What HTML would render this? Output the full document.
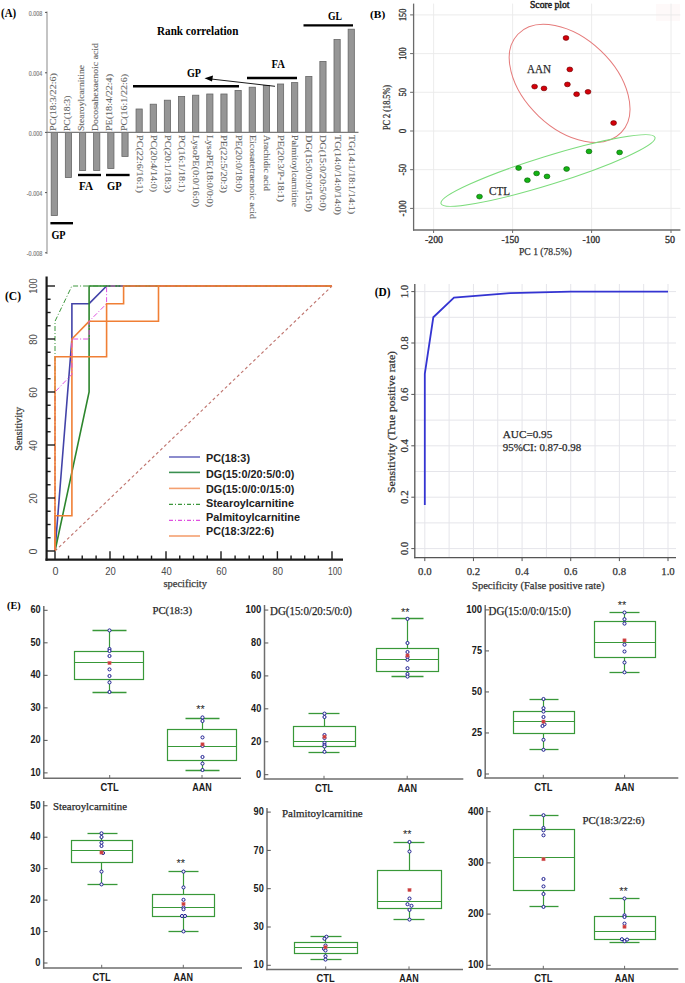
<!DOCTYPE html>
<html><head><meta charset="utf-8"><style>
html,body{margin:0;padding:0;background:#fff;}
svg{display:block;}
</style></head><body>
<svg width="685" height="983" viewBox="0 0 685 983">
<rect width="685" height="983" fill="#fff"/>
<text x="1.1" y="17" font-family='"Liberation Serif", serif' font-size="11.6" fill="#000" font-weight="bold" textLength="15.1" lengthAdjust="spacingAndGlyphs">(A)</text>
<line x1="47" y1="11.5" x2="47" y2="254" stroke="#b0b0b0" stroke-width="1.5" />
<line x1="45" y1="12.4" x2="47" y2="12.4" stroke="#555" stroke-width="1" />
<text x="42.3" y="15.7" font-family='"Liberation Sans", sans-serif' font-size="7.6" fill="#7a7a7a" text-anchor="end" textLength="13.5" lengthAdjust="spacingAndGlyphs" stroke="#888" stroke-width="0.2">0.008</text>
<line x1="45" y1="72.8" x2="47" y2="72.8" stroke="#555" stroke-width="1" />
<text x="42.3" y="76.1" font-family='"Liberation Sans", sans-serif' font-size="7.6" fill="#7a7a7a" text-anchor="end" textLength="13.5" lengthAdjust="spacingAndGlyphs" stroke="#888" stroke-width="0.2">0.004</text>
<line x1="45" y1="132.4" x2="47" y2="132.4" stroke="#555" stroke-width="1" />
<text x="42.3" y="135.7" font-family='"Liberation Sans", sans-serif' font-size="7.6" fill="#7a7a7a" text-anchor="end" textLength="13.5" lengthAdjust="spacingAndGlyphs" stroke="#888" stroke-width="0.2">0.000</text>
<line x1="45" y1="192.6" x2="47" y2="192.6" stroke="#555" stroke-width="1" />
<text x="42.3" y="195.9" font-family='"Liberation Sans", sans-serif' font-size="7.6" fill="#7a7a7a" text-anchor="end" textLength="15.5" lengthAdjust="spacingAndGlyphs" stroke="#888" stroke-width="0.2">-0.004</text>
<line x1="45" y1="252.8" x2="47" y2="252.8" stroke="#555" stroke-width="1" />
<text x="42.3" y="256.1" font-family='"Liberation Sans", sans-serif' font-size="7.6" fill="#7a7a7a" text-anchor="end" textLength="15.5" lengthAdjust="spacingAndGlyphs" stroke="#888" stroke-width="0.2">-0.008</text>
<rect x="51.2" y="132.4" width="6.2" height="83.2" fill="#969696" stroke="#666" stroke-width="0.8" />
<rect x="65.34" y="132.4" width="6.2" height="45.2" fill="#969696" stroke="#666" stroke-width="0.8" />
<rect x="79.48" y="132.4" width="6.2" height="38.2" fill="#969696" stroke="#666" stroke-width="0.8" />
<rect x="93.62" y="132.4" width="6.2" height="38.2" fill="#969696" stroke="#666" stroke-width="0.8" />
<rect x="107.76" y="132.4" width="6.2" height="36.2" fill="#969696" stroke="#666" stroke-width="0.8" />
<rect x="121.9" y="132.4" width="6.2" height="24" fill="#969696" stroke="#666" stroke-width="0.8" />
<rect x="136.04" y="109" width="6.2" height="23.4" fill="#969696" stroke="#666" stroke-width="0.8" />
<rect x="150.18" y="104.2" width="6.2" height="28.2" fill="#969696" stroke="#666" stroke-width="0.8" />
<rect x="164.32" y="100.2" width="6.2" height="32.2" fill="#969696" stroke="#666" stroke-width="0.8" />
<rect x="178.46" y="96.4" width="6.2" height="36" fill="#969696" stroke="#666" stroke-width="0.8" />
<rect x="192.6" y="95.2" width="6.2" height="37.2" fill="#969696" stroke="#666" stroke-width="0.8" />
<rect x="206.74" y="94" width="6.2" height="38.4" fill="#969696" stroke="#666" stroke-width="0.8" />
<rect x="220.88" y="94" width="6.2" height="38.4" fill="#969696" stroke="#666" stroke-width="0.8" />
<rect x="235.02" y="90.4" width="6.2" height="42" fill="#969696" stroke="#666" stroke-width="0.8" />
<rect x="249.16" y="87.2" width="6.2" height="45.2" fill="#969696" stroke="#666" stroke-width="0.8" />
<rect x="263.3" y="85.4" width="6.2" height="47" fill="#969696" stroke="#666" stroke-width="0.8" />
<rect x="277.44" y="84" width="6.2" height="48.4" fill="#969696" stroke="#666" stroke-width="0.8" />
<rect x="291.58" y="82.6" width="6.2" height="49.8" fill="#969696" stroke="#666" stroke-width="0.8" />
<rect x="305.72" y="76.4" width="6.2" height="56" fill="#969696" stroke="#666" stroke-width="0.8" />
<rect x="319.86" y="61.4" width="6.2" height="71" fill="#969696" stroke="#666" stroke-width="0.8" />
<rect x="334" y="39.5" width="6.2" height="92.9" fill="#969696" stroke="#666" stroke-width="0.8" />
<rect x="348.14" y="29.2" width="6.2" height="103.2" fill="#969696" stroke="#666" stroke-width="0.8" />
<line x1="47" y1="132.4" x2="358.5" y2="132.4" stroke="#7a7a7a" stroke-width="1.3" />
<text transform="translate(55.9,131) rotate(-90)" font-family='"Liberation Serif", serif' font-size="7.3" fill="#5a5a5a" textLength="58" lengthAdjust="spacingAndGlyphs" stroke="#888" stroke-width="0.12">PC(18:3/22:6)</text>
<text transform="translate(70.04,131) rotate(-90)" font-family='"Liberation Serif", serif' font-size="7.3" fill="#5a5a5a" textLength="35.4" lengthAdjust="spacingAndGlyphs" stroke="#888" stroke-width="0.12">PC(18:3)</text>
<text transform="translate(84.18,131) rotate(-90)" font-family='"Liberation Serif", serif' font-size="7.3" fill="#5a5a5a" textLength="66" lengthAdjust="spacingAndGlyphs" stroke="#888" stroke-width="0.12">Stearoylcarnitine</text>
<text transform="translate(98.32,131) rotate(-90)" font-family='"Liberation Serif", serif' font-size="7.3" fill="#5a5a5a" textLength="88" lengthAdjust="spacingAndGlyphs" stroke="#888" stroke-width="0.12">Docosahexaenoic acid</text>
<text transform="translate(112.46,131) rotate(-90)" font-family='"Liberation Serif", serif' font-size="7.3" fill="#5a5a5a" textLength="57" lengthAdjust="spacingAndGlyphs" stroke="#888" stroke-width="0.12">PE(18:4/22:4)</text>
<text transform="translate(126.6,131) rotate(-90)" font-family='"Liberation Serif", serif' font-size="7.3" fill="#5a5a5a" textLength="57" lengthAdjust="spacingAndGlyphs" stroke="#888" stroke-width="0.12">PC(16:1/22:6)</text>
<text transform="translate(136.59,135) rotate(90)" font-family='"Liberation Serif", serif' font-size="7.3" fill="#5a5a5a" textLength="58" lengthAdjust="spacingAndGlyphs" stroke="#888" stroke-width="0.12">PC(22:6/16:1)</text>
<text transform="translate(150.73,135) rotate(90)" font-family='"Liberation Serif", serif' font-size="7.3" fill="#5a5a5a" textLength="57" lengthAdjust="spacingAndGlyphs" stroke="#888" stroke-width="0.12">PC(20:4/14:0)</text>
<text transform="translate(164.87,135) rotate(90)" font-family='"Liberation Serif", serif' font-size="7.3" fill="#5a5a5a" textLength="58" lengthAdjust="spacingAndGlyphs" stroke="#888" stroke-width="0.12">PC(20:1/18:3)</text>
<text transform="translate(179.01,135) rotate(90)" font-family='"Liberation Serif", serif' font-size="7.3" fill="#5a5a5a" textLength="57" lengthAdjust="spacingAndGlyphs" stroke="#888" stroke-width="0.12">PC(16:1/18:1)</text>
<text transform="translate(193.15,135) rotate(90)" font-family='"Liberation Serif", serif' font-size="7.3" fill="#5a5a5a" textLength="72" lengthAdjust="spacingAndGlyphs" stroke="#888" stroke-width="0.12">LysoPE(0:0/16:0)</text>
<text transform="translate(207.29,135) rotate(90)" font-family='"Liberation Serif", serif' font-size="7.3" fill="#5a5a5a" textLength="72" lengthAdjust="spacingAndGlyphs" stroke="#888" stroke-width="0.12">LysoPE(18:0/0:0)</text>
<text transform="translate(221.43,135) rotate(90)" font-family='"Liberation Serif", serif' font-size="7.3" fill="#5a5a5a" textLength="58" lengthAdjust="spacingAndGlyphs" stroke="#888" stroke-width="0.12">PE(22:5/20:3)</text>
<text transform="translate(235.57,135) rotate(90)" font-family='"Liberation Serif", serif' font-size="7.3" fill="#5a5a5a" textLength="57" lengthAdjust="spacingAndGlyphs" stroke="#888" stroke-width="0.12">PE(20:0/18:0)</text>
<text transform="translate(249.71,135) rotate(90)" font-family='"Liberation Serif", serif' font-size="7.3" fill="#5a5a5a" textLength="84" lengthAdjust="spacingAndGlyphs" stroke="#888" stroke-width="0.12">Eicosatetraenoic acid</text>
<text transform="translate(263.85,135) rotate(90)" font-family='"Liberation Serif", serif' font-size="7.3" fill="#5a5a5a" textLength="56" lengthAdjust="spacingAndGlyphs" stroke="#888" stroke-width="0.12">Arachidic acid</text>
<text transform="translate(277.99,135) rotate(90)" font-family='"Liberation Serif", serif' font-size="7.3" fill="#5a5a5a" textLength="67" lengthAdjust="spacingAndGlyphs" stroke="#888" stroke-width="0.12">PE(20:3/P-18:1)</text>
<text transform="translate(292.13,135) rotate(90)" font-family='"Liberation Serif", serif' font-size="7.3" fill="#5a5a5a" textLength="72" lengthAdjust="spacingAndGlyphs" stroke="#888" stroke-width="0.12">Palmitoylcarnitine</text>
<text transform="translate(306.27,135) rotate(90)" font-family='"Liberation Serif", serif' font-size="7.3" fill="#5a5a5a" textLength="77" lengthAdjust="spacingAndGlyphs" stroke="#888" stroke-width="0.12">DG(15:0/0:0/15:0)</text>
<text transform="translate(320.41,135) rotate(90)" font-family='"Liberation Serif", serif' font-size="7.3" fill="#5a5a5a" textLength="76" lengthAdjust="spacingAndGlyphs" stroke="#888" stroke-width="0.12">DG(15:0/20:5/0:0)</text>
<text transform="translate(334.55,135) rotate(90)" font-family='"Liberation Serif", serif' font-size="7.3" fill="#5a5a5a" textLength="80" lengthAdjust="spacingAndGlyphs" stroke="#888" stroke-width="0.12">TG(14:0/14:0/14:0)</text>
<text transform="translate(348.69,135) rotate(90)" font-family='"Liberation Serif", serif' font-size="7.3" fill="#5a5a5a" textLength="79" lengthAdjust="spacingAndGlyphs" stroke="#888" stroke-width="0.12">TG(14:1/18:1/14:1)</text>
<line x1="133" y1="86.2" x2="239" y2="86.2" stroke="#000" stroke-width="2.4" />
<line x1="247" y1="78" x2="297" y2="78" stroke="#000" stroke-width="2.4" />
<line x1="303.5" y1="25.4" x2="353" y2="25.4" stroke="#000" stroke-width="2.4" />
<line x1="50.4" y1="223.2" x2="73" y2="223.2" stroke="#000" stroke-width="2.4" />
<line x1="78" y1="175" x2="101" y2="175" stroke="#000" stroke-width="2.4" />
<line x1="106" y1="175" x2="129.6" y2="175" stroke="#000" stroke-width="2.4" />
<line x1="275" y1="86.3" x2="211" y2="79" stroke="#000" stroke-width="0.9" />
<polygon points="204.5,78.3 213,75.6 212,81.6" fill="#000"/>
<text x="187" y="77" font-family='"Liberation Serif", serif' font-size="12" fill="#000" font-weight="bold" textLength="14" lengthAdjust="spacingAndGlyphs">GP</text>
<text x="271.6" y="68" font-family='"Liberation Serif", serif' font-size="12" fill="#000" font-weight="bold" textLength="13.4" lengthAdjust="spacingAndGlyphs">FA</text>
<text x="328" y="20" font-family='"Liberation Serif", serif' font-size="12" fill="#000" font-weight="bold" textLength="14" lengthAdjust="spacingAndGlyphs">GL</text>
<text x="51.4" y="238.6" font-family='"Liberation Serif", serif' font-size="12" fill="#000" font-weight="bold" textLength="14.2" lengthAdjust="spacingAndGlyphs">GP</text>
<text x="79" y="190" font-family='"Liberation Serif", serif' font-size="12" fill="#000" font-weight="bold" textLength="14" lengthAdjust="spacingAndGlyphs">FA</text>
<text x="107" y="190" font-family='"Liberation Serif", serif' font-size="12" fill="#000" font-weight="bold" textLength="14.6" lengthAdjust="spacingAndGlyphs">GP</text>
<text x="157" y="35" font-family='"Liberation Serif", serif' font-size="12.5" fill="#000" font-weight="bold" textLength="81.4" lengthAdjust="spacingAndGlyphs">Rank correlation</text>
<text x="370" y="18.2" font-family='"Liberation Serif", serif' font-size="11" fill="#000" font-weight="bold" textLength="15.2" lengthAdjust="spacingAndGlyphs">(B)</text>
<rect x="656" y="4" width="24" height="17" fill="#fef9f9" stroke="none" stroke-width="1" />
<line x1="413.6" y1="14.9" x2="680.4" y2="14.9" stroke="#eaeaea" stroke-width="0.9" />
<line x1="413.6" y1="53.6" x2="680.4" y2="53.6" stroke="#eaeaea" stroke-width="0.9" />
<line x1="413.6" y1="92.3" x2="680.4" y2="92.3" stroke="#eaeaea" stroke-width="0.9" />
<line x1="413.6" y1="131" x2="680.4" y2="131" stroke="#eaeaea" stroke-width="0.9" />
<line x1="413.6" y1="169.7" x2="680.4" y2="169.7" stroke="#eaeaea" stroke-width="0.9" />
<line x1="413.6" y1="208.4" x2="680.4" y2="208.4" stroke="#eaeaea" stroke-width="0.9" />
<line x1="433.6" y1="3.6" x2="433.6" y2="230" stroke="#eaeaea" stroke-width="0.9" />
<line x1="512.6" y1="3.6" x2="512.6" y2="230" stroke="#eaeaea" stroke-width="0.9" />
<line x1="591.6" y1="3.6" x2="591.6" y2="230" stroke="#eaeaea" stroke-width="0.9" />
<line x1="671" y1="3.6" x2="671" y2="230" stroke="#eaeaea" stroke-width="0.9" />
<line x1="413.6" y1="3.6" x2="413.6" y2="230.6" stroke="#6a6a6a" stroke-width="1.3" />
<line x1="413" y1="230" x2="680.4" y2="230" stroke="#6a6a6a" stroke-width="1.3" />
<line x1="410.1" y1="14.9" x2="413.6" y2="14.9" stroke="#6a6a6a" stroke-width="1" />
<text transform="translate(406.2,14.9) rotate(-90)" font-family='"Liberation Serif", serif' font-size="10" fill="#333" text-anchor="middle" textLength="12.2" lengthAdjust="spacingAndGlyphs" stroke="#333" stroke-width="0.35">150</text>
<line x1="410.1" y1="53.6" x2="413.6" y2="53.6" stroke="#6a6a6a" stroke-width="1" />
<text transform="translate(406.2,53.6) rotate(-90)" font-family='"Liberation Serif", serif' font-size="10" fill="#333" text-anchor="middle" textLength="12.2" lengthAdjust="spacingAndGlyphs" stroke="#333" stroke-width="0.35">100</text>
<line x1="410.1" y1="92.3" x2="413.6" y2="92.3" stroke="#6a6a6a" stroke-width="1" />
<text transform="translate(406.2,92.3) rotate(-90)" font-family='"Liberation Serif", serif' font-size="10" fill="#333" text-anchor="middle" textLength="8.5" lengthAdjust="spacingAndGlyphs" stroke="#333" stroke-width="0.35">50</text>
<line x1="410.1" y1="131" x2="413.6" y2="131" stroke="#6a6a6a" stroke-width="1" />
<text transform="translate(406.2,131) rotate(-90)" font-family='"Liberation Serif", serif' font-size="10" fill="#333" text-anchor="middle" textLength="4.5" lengthAdjust="spacingAndGlyphs" stroke="#333" stroke-width="0.35">0</text>
<line x1="410.1" y1="169.7" x2="413.6" y2="169.7" stroke="#6a6a6a" stroke-width="1" />
<text transform="translate(406.2,169.7) rotate(-90)" font-family='"Liberation Serif", serif' font-size="10" fill="#333" text-anchor="middle" textLength="11.5" lengthAdjust="spacingAndGlyphs" stroke="#333" stroke-width="0.35">-50</text>
<line x1="410.1" y1="208.4" x2="413.6" y2="208.4" stroke="#6a6a6a" stroke-width="1" />
<text transform="translate(406.2,208.4) rotate(-90)" font-family='"Liberation Serif", serif' font-size="10" fill="#333" text-anchor="middle" textLength="16" lengthAdjust="spacingAndGlyphs" stroke="#333" stroke-width="0.35">-100</text>
<line x1="433.6" y1="230" x2="433.6" y2="233" stroke="#6a6a6a" stroke-width="1" />
<text x="425" y="243" font-family='"Liberation Serif", serif' font-size="10" fill="#333" textLength="18" lengthAdjust="spacingAndGlyphs" stroke="#333" stroke-width="0.35">-200</text>
<line x1="512.6" y1="230" x2="512.6" y2="233" stroke="#6a6a6a" stroke-width="1" />
<text x="501.5" y="243" font-family='"Liberation Serif", serif' font-size="10" fill="#333" textLength="17.5" lengthAdjust="spacingAndGlyphs" stroke="#333" stroke-width="0.35">-150</text>
<line x1="591.6" y1="230" x2="591.6" y2="233" stroke="#6a6a6a" stroke-width="1" />
<text x="582.5" y="243" font-family='"Liberation Serif", serif' font-size="10" fill="#333" textLength="17.6" lengthAdjust="spacingAndGlyphs" stroke="#333" stroke-width="0.35">-100</text>
<line x1="671" y1="230" x2="671" y2="233" stroke="#6a6a6a" stroke-width="1" />
<text x="665" y="243" font-family='"Liberation Serif", serif' font-size="10" fill="#333" textLength="10" lengthAdjust="spacingAndGlyphs" stroke="#333" stroke-width="0.35">50</text>
<text x="519" y="254.5" font-family='"Liberation Serif", serif' font-size="10" fill="#333" textLength="52.6" lengthAdjust="spacingAndGlyphs" stroke="#333" stroke-width="0.25">PC 1 (78.5%)</text>
<text transform="translate(389.5,130) rotate(-90)" font-family='"Liberation Serif", serif' font-size="10" fill="#333" textLength="45" lengthAdjust="spacingAndGlyphs" stroke="#333" stroke-width="0.25">PC 2 (18.5%)</text>
<text x="530" y="8.2" font-family='"Liberation Serif", serif' font-size="10" fill="#222" textLength="39.4" lengthAdjust="spacingAndGlyphs" stroke="#222" stroke-width="0.45">Score plot</text>
<ellipse cx="569.6" cy="83.3" rx="71.3" ry="45.1" transform="rotate(43.5 569.6 83.3)" fill="none" stroke="#e57b7b" stroke-width="1"/>
<ellipse cx="548" cy="170.5" rx="112" ry="14.2" transform="rotate(-17.2 548 170.5)" fill="none" stroke="#7cdc7c" stroke-width="1"/>
<ellipse cx="566" cy="38" rx="2.9" ry="2.4" fill="#d4000a" stroke="#6a0000" stroke-width="0.6"/>
<ellipse cx="569.8" cy="69.4" rx="2.9" ry="2.4" fill="#d4000a" stroke="#6a0000" stroke-width="0.6"/>
<ellipse cx="567.4" cy="84.4" rx="2.9" ry="2.4" fill="#d4000a" stroke="#6a0000" stroke-width="0.6"/>
<ellipse cx="534.6" cy="86.6" rx="2.9" ry="2.4" fill="#d4000a" stroke="#6a0000" stroke-width="0.6"/>
<ellipse cx="544" cy="88.4" rx="2.9" ry="2.4" fill="#d4000a" stroke="#6a0000" stroke-width="0.6"/>
<ellipse cx="576.6" cy="94.2" rx="2.9" ry="2.4" fill="#d4000a" stroke="#6a0000" stroke-width="0.6"/>
<ellipse cx="588" cy="91.8" rx="2.9" ry="2.4" fill="#d4000a" stroke="#6a0000" stroke-width="0.6"/>
<ellipse cx="613.6" cy="123" rx="2.9" ry="2.4" fill="#d4000a" stroke="#6a0000" stroke-width="0.6"/>
<ellipse cx="479.5" cy="196.6" rx="2.9" ry="2.4" fill="#14b414" stroke="#0a5a0a" stroke-width="0.6"/>
<ellipse cx="518.6" cy="168" rx="2.9" ry="2.4" fill="#14b414" stroke="#0a5a0a" stroke-width="0.6"/>
<ellipse cx="536.6" cy="173.4" rx="2.9" ry="2.4" fill="#14b414" stroke="#0a5a0a" stroke-width="0.6"/>
<ellipse cx="547" cy="176.4" rx="2.9" ry="2.4" fill="#14b414" stroke="#0a5a0a" stroke-width="0.6"/>
<ellipse cx="527.4" cy="180.2" rx="2.9" ry="2.4" fill="#14b414" stroke="#0a5a0a" stroke-width="0.6"/>
<ellipse cx="566.6" cy="169" rx="2.9" ry="2.4" fill="#14b414" stroke="#0a5a0a" stroke-width="0.6"/>
<ellipse cx="589" cy="151.4" rx="2.9" ry="2.4" fill="#14b414" stroke="#0a5a0a" stroke-width="0.6"/>
<ellipse cx="619.6" cy="152.4" rx="2.9" ry="2.4" fill="#14b414" stroke="#0a5a0a" stroke-width="0.6"/>
<text x="527" y="72.8" font-family='"Liberation Serif", serif' font-size="12" fill="#222" textLength="24" lengthAdjust="spacingAndGlyphs" stroke="#333" stroke-width="0.25">AAN</text>
<text x="489" y="194.6" font-family='"Liberation Serif", serif' font-size="12" fill="#222" textLength="21" lengthAdjust="spacingAndGlyphs" stroke="#333" stroke-width="0.25">CTL</text>
<text x="5" y="300.3" font-family='"Liberation Serif", serif' font-size="11.8" fill="#000" font-weight="bold" textLength="16" lengthAdjust="spacingAndGlyphs">(C)</text>
<line x1="55" y1="551" x2="332" y2="286" stroke="#c07670" stroke-width="1.15" stroke-dasharray="3,2.6"/>
<polyline points="55,551 71.9,339 71.9,303.68 89.1,303.68 106.6,286 332,286" fill="none" stroke="#4343a8" stroke-width="1.6" />
<polyline points="55,551 89.1,392 89.1,286 332,286" fill="none" stroke="#2d862d" stroke-width="1.6" />
<polyline points="55,551 55,515.68 71.9,515.68 71.9,339 89.1,321.32 158.5,321.32 158.5,286 332,286" fill="none" stroke="#f07f35" stroke-width="1.6" />
<polyline points="55,551 55,321.32 71.9,286 332,286" fill="none" stroke="#3c963c" stroke-width="1" stroke-dasharray="5,2,1,2"/>
<polyline points="55,551 55,392 71.9,374.32 71.9,339 89.1,339 89.1,321.32 106.6,303.68 106.6,286 332,286" fill="none" stroke="#e050e0" stroke-width="1" stroke-dasharray="5,2,1,2"/>
<polyline points="55,551 55,356.68 106.6,356.68 106.6,303.68 123.6,303.68 123.6,286 332,286" fill="none" stroke="#f07f35" stroke-width="1.6" />
<line x1="46.6" y1="276.4" x2="46.6" y2="560.7" stroke="#1a1a1a" stroke-width="2.2" />
<line x1="45.5" y1="559.6" x2="343" y2="559.6" stroke="#1a1a1a" stroke-width="2.2" />
<line x1="46.6" y1="551" x2="55" y2="551" stroke="#1a1a1a" stroke-width="1.4" />
<line x1="55" y1="559.6" x2="55" y2="551.2" stroke="#1a1a1a" stroke-width="1.4" />
<line x1="46.6" y1="537.75" x2="50.6" y2="537.75" stroke="#1a1a1a" stroke-width="1.4" />
<line x1="68.52" y1="559.6" x2="68.52" y2="555.6" stroke="#1a1a1a" stroke-width="1.4" />
<line x1="46.6" y1="524.5" x2="50.6" y2="524.5" stroke="#1a1a1a" stroke-width="1.4" />
<line x1="82.22" y1="559.6" x2="82.22" y2="555.6" stroke="#1a1a1a" stroke-width="1.4" />
<line x1="46.6" y1="511.25" x2="50.6" y2="511.25" stroke="#1a1a1a" stroke-width="1.4" />
<line x1="96.1" y1="559.6" x2="96.1" y2="555.6" stroke="#1a1a1a" stroke-width="1.4" />
<line x1="46.6" y1="498" x2="55" y2="498" stroke="#1a1a1a" stroke-width="1.4" />
<line x1="110" y1="559.6" x2="110" y2="551.2" stroke="#1a1a1a" stroke-width="1.4" />
<line x1="46.6" y1="484.75" x2="50.6" y2="484.75" stroke="#1a1a1a" stroke-width="1.4" />
<line x1="123.6" y1="559.6" x2="123.6" y2="555.6" stroke="#1a1a1a" stroke-width="1.4" />
<line x1="46.6" y1="471.5" x2="50.6" y2="471.5" stroke="#1a1a1a" stroke-width="1.4" />
<line x1="137.56" y1="559.6" x2="137.56" y2="555.6" stroke="#1a1a1a" stroke-width="1.4" />
<line x1="46.6" y1="458.25" x2="50.6" y2="458.25" stroke="#1a1a1a" stroke-width="1.4" />
<line x1="151.52" y1="559.6" x2="151.52" y2="555.6" stroke="#1a1a1a" stroke-width="1.4" />
<line x1="46.6" y1="445" x2="55" y2="445" stroke="#1a1a1a" stroke-width="1.4" />
<line x1="166" y1="559.6" x2="166" y2="551.2" stroke="#1a1a1a" stroke-width="1.4" />
<line x1="46.6" y1="431.75" x2="50.6" y2="431.75" stroke="#1a1a1a" stroke-width="1.4" />
<line x1="179.75" y1="559.6" x2="179.75" y2="555.6" stroke="#1a1a1a" stroke-width="1.4" />
<line x1="46.6" y1="418.5" x2="50.6" y2="418.5" stroke="#1a1a1a" stroke-width="1.4" />
<line x1="193.5" y1="559.6" x2="193.5" y2="555.6" stroke="#1a1a1a" stroke-width="1.4" />
<line x1="46.6" y1="405.25" x2="50.6" y2="405.25" stroke="#1a1a1a" stroke-width="1.4" />
<line x1="207.25" y1="559.6" x2="207.25" y2="555.6" stroke="#1a1a1a" stroke-width="1.4" />
<line x1="46.6" y1="392" x2="55" y2="392" stroke="#1a1a1a" stroke-width="1.4" />
<line x1="221" y1="559.6" x2="221" y2="551.2" stroke="#1a1a1a" stroke-width="1.4" />
<line x1="46.6" y1="378.75" x2="50.6" y2="378.75" stroke="#1a1a1a" stroke-width="1.4" />
<line x1="235.1" y1="559.6" x2="235.1" y2="555.6" stroke="#1a1a1a" stroke-width="1.4" />
<line x1="46.6" y1="365.5" x2="50.6" y2="365.5" stroke="#1a1a1a" stroke-width="1.4" />
<line x1="249.2" y1="559.6" x2="249.2" y2="555.6" stroke="#1a1a1a" stroke-width="1.4" />
<line x1="46.6" y1="352.25" x2="50.6" y2="352.25" stroke="#1a1a1a" stroke-width="1.4" />
<line x1="263.3" y1="559.6" x2="263.3" y2="555.6" stroke="#1a1a1a" stroke-width="1.4" />
<line x1="46.6" y1="339" x2="55" y2="339" stroke="#1a1a1a" stroke-width="1.4" />
<line x1="277.4" y1="559.6" x2="277.4" y2="551.2" stroke="#1a1a1a" stroke-width="1.4" />
<line x1="46.6" y1="325.75" x2="50.6" y2="325.75" stroke="#1a1a1a" stroke-width="1.4" />
<line x1="291.05" y1="559.6" x2="291.05" y2="555.6" stroke="#1a1a1a" stroke-width="1.4" />
<line x1="46.6" y1="312.5" x2="50.6" y2="312.5" stroke="#1a1a1a" stroke-width="1.4" />
<line x1="304.7" y1="559.6" x2="304.7" y2="555.6" stroke="#1a1a1a" stroke-width="1.4" />
<line x1="46.6" y1="299.25" x2="50.6" y2="299.25" stroke="#1a1a1a" stroke-width="1.4" />
<line x1="318.35" y1="559.6" x2="318.35" y2="555.6" stroke="#1a1a1a" stroke-width="1.4" />
<line x1="46.6" y1="286" x2="55" y2="286" stroke="#1a1a1a" stroke-width="1.4" />
<line x1="332" y1="559.6" x2="332" y2="551.2" stroke="#1a1a1a" stroke-width="1.4" />
<text transform="translate(37.2,551.6) rotate(-90)" font-family='"Liberation Sans", sans-serif' font-size="10" fill="#4a4a4a" text-anchor="middle" textLength="6" lengthAdjust="spacingAndGlyphs">0</text>
<text x="55.4" y="574.9" font-family='"Liberation Sans", sans-serif' font-size="10" fill="#4a4a4a" text-anchor="middle" textLength="6" lengthAdjust="spacingAndGlyphs">0</text>
<text transform="translate(37.2,498.6) rotate(-90)" font-family='"Liberation Sans", sans-serif' font-size="10" fill="#4a4a4a" text-anchor="middle" textLength="10.5" lengthAdjust="spacingAndGlyphs">20</text>
<text x="110.4" y="574.9" font-family='"Liberation Sans", sans-serif' font-size="10" fill="#4a4a4a" text-anchor="middle" textLength="10.5" lengthAdjust="spacingAndGlyphs">20</text>
<text transform="translate(37.2,445.6) rotate(-90)" font-family='"Liberation Sans", sans-serif' font-size="10" fill="#4a4a4a" text-anchor="middle" textLength="10.5" lengthAdjust="spacingAndGlyphs">40</text>
<text x="166.4" y="574.9" font-family='"Liberation Sans", sans-serif' font-size="10" fill="#4a4a4a" text-anchor="middle" textLength="10.5" lengthAdjust="spacingAndGlyphs">40</text>
<text transform="translate(37.2,392.6) rotate(-90)" font-family='"Liberation Sans", sans-serif' font-size="10" fill="#4a4a4a" text-anchor="middle" textLength="10.5" lengthAdjust="spacingAndGlyphs">60</text>
<text x="221.4" y="574.9" font-family='"Liberation Sans", sans-serif' font-size="10" fill="#4a4a4a" text-anchor="middle" textLength="10.5" lengthAdjust="spacingAndGlyphs">60</text>
<text transform="translate(37.2,339.6) rotate(-90)" font-family='"Liberation Sans", sans-serif' font-size="10" fill="#4a4a4a" text-anchor="middle" textLength="10.5" lengthAdjust="spacingAndGlyphs">80</text>
<text x="277.8" y="574.9" font-family='"Liberation Sans", sans-serif' font-size="10" fill="#4a4a4a" text-anchor="middle" textLength="10.5" lengthAdjust="spacingAndGlyphs">80</text>
<text transform="translate(37.2,286) rotate(-90)" font-family='"Liberation Sans", sans-serif' font-size="10" fill="#4a4a4a" text-anchor="middle" textLength="15.5" lengthAdjust="spacingAndGlyphs">100</text>
<text x="335" y="574.9" font-family='"Liberation Sans", sans-serif' font-size="10" fill="#4a4a4a" text-anchor="middle" textLength="14" lengthAdjust="spacingAndGlyphs">100</text>
<text x="163.5" y="587" font-family='"Liberation Serif", serif' font-size="10" fill="#444" textLength="43.5" lengthAdjust="spacingAndGlyphs" stroke="#333" stroke-width="0.25">specificity</text>
<text transform="translate(21.6,450.7) rotate(-90)" font-family='"Liberation Serif", serif' font-size="10" fill="#444" textLength="43.7" lengthAdjust="spacingAndGlyphs" stroke="#333" stroke-width="0.25">Sensitivity</text>
<line x1="169" y1="457" x2="200" y2="457" stroke="#6f6fc0" stroke-width="1.6" />
<text x="206" y="461.5" font-family='"Liberation Sans", sans-serif' font-size="11" fill="#222" font-weight="bold" textLength="44" lengthAdjust="spacingAndGlyphs">PC(18:3)</text>
<line x1="169" y1="472.4" x2="200" y2="472.4" stroke="#3a9050" stroke-width="1.6" />
<text x="206" y="477.5" font-family='"Liberation Sans", sans-serif' font-size="11" fill="#222" font-weight="bold" textLength="88.4" lengthAdjust="spacingAndGlyphs">DG(15:0/20:5/0:0)</text>
<line x1="169" y1="488.4" x2="200" y2="488.4" stroke="#f4a070" stroke-width="1.6" />
<text x="206" y="492.5" font-family='"Liberation Sans", sans-serif' font-size="11" fill="#222" font-weight="bold" textLength="88.4" lengthAdjust="spacingAndGlyphs">DG(15:0/0:0/15:0)</text>
<line x1="169" y1="504.4" x2="200" y2="504.4" stroke="#3c963c" stroke-width="1.1" stroke-dasharray="4,2,1,2"/>
<text x="206" y="506.5" font-family='"Liberation Sans", sans-serif' font-size="11" fill="#222" font-weight="bold" textLength="88" lengthAdjust="spacingAndGlyphs">Stearoylcarnitine</text>
<line x1="169" y1="520.4" x2="200" y2="520.4" stroke="#e050e0" stroke-width="1.1" stroke-dasharray="4,2,1,2"/>
<text x="206" y="520.5" font-family='"Liberation Sans", sans-serif' font-size="11" fill="#222" font-weight="bold" textLength="94" lengthAdjust="spacingAndGlyphs">Palmitoylcarnitine</text>
<line x1="169" y1="536" x2="200" y2="536" stroke="#f4a070" stroke-width="1.6" />
<text x="206" y="534.5" font-family='"Liberation Sans", sans-serif' font-size="11" fill="#222" font-weight="bold" textLength="68" lengthAdjust="spacingAndGlyphs">PC(18:3/22:6)</text>
<text x="374.8" y="295.6" font-family='"Liberation Serif", serif' font-size="12" fill="#000" font-weight="bold" textLength="15.8" lengthAdjust="spacingAndGlyphs">(D)</text>
<line x1="414.8" y1="548.6" x2="676" y2="548.6" stroke="#e5e5ea" stroke-width="1" />
<line x1="424.8" y1="284" x2="424.8" y2="557.6" stroke="#e5e5ea" stroke-width="1" />
<line x1="414.8" y1="522.9" x2="676" y2="522.9" stroke="#e5e5ea" stroke-width="1" />
<line x1="449.12" y1="284" x2="449.12" y2="557.6" stroke="#e5e5ea" stroke-width="1" />
<line x1="414.8" y1="497.2" x2="676" y2="497.2" stroke="#e5e5ea" stroke-width="1" />
<line x1="473.44" y1="284" x2="473.44" y2="557.6" stroke="#e5e5ea" stroke-width="1" />
<line x1="414.8" y1="471.5" x2="676" y2="471.5" stroke="#e5e5ea" stroke-width="1" />
<line x1="497.76" y1="284" x2="497.76" y2="557.6" stroke="#e5e5ea" stroke-width="1" />
<line x1="414.8" y1="445.8" x2="676" y2="445.8" stroke="#e5e5ea" stroke-width="1" />
<line x1="522.08" y1="284" x2="522.08" y2="557.6" stroke="#e5e5ea" stroke-width="1" />
<line x1="414.8" y1="420.1" x2="676" y2="420.1" stroke="#e5e5ea" stroke-width="1" />
<line x1="546.4" y1="284" x2="546.4" y2="557.6" stroke="#e5e5ea" stroke-width="1" />
<line x1="414.8" y1="394.4" x2="676" y2="394.4" stroke="#e5e5ea" stroke-width="1" />
<line x1="570.72" y1="284" x2="570.72" y2="557.6" stroke="#e5e5ea" stroke-width="1" />
<line x1="414.8" y1="368.7" x2="676" y2="368.7" stroke="#e5e5ea" stroke-width="1" />
<line x1="595.04" y1="284" x2="595.04" y2="557.6" stroke="#e5e5ea" stroke-width="1" />
<line x1="414.8" y1="343" x2="676" y2="343" stroke="#e5e5ea" stroke-width="1" />
<line x1="619.36" y1="284" x2="619.36" y2="557.6" stroke="#e5e5ea" stroke-width="1" />
<line x1="414.8" y1="317.3" x2="676" y2="317.3" stroke="#e5e5ea" stroke-width="1" />
<line x1="643.68" y1="284" x2="643.68" y2="557.6" stroke="#e5e5ea" stroke-width="1" />
<line x1="414.8" y1="291.6" x2="676" y2="291.6" stroke="#e5e5ea" stroke-width="1" />
<line x1="668" y1="284" x2="668" y2="557.6" stroke="#e5e5ea" stroke-width="1" />
<line x1="414.8" y1="284" x2="414.8" y2="558.2" stroke="#555" stroke-width="1.3" />
<line x1="414.2" y1="557.6" x2="676" y2="557.6" stroke="#555" stroke-width="1.3" />
<line x1="411.3" y1="548.6" x2="414.8" y2="548.6" stroke="#555" stroke-width="1" />
<text transform="translate(407.6,548.6) rotate(-90)" font-family='"Liberation Serif", serif' font-size="11" fill="#333" text-anchor="middle" textLength="13.5" lengthAdjust="spacingAndGlyphs" stroke="#333" stroke-width="0.25">0.0</text>
<line x1="424.8" y1="557.6" x2="424.8" y2="561.1" stroke="#555" stroke-width="1" />
<text x="424.8" y="575.2" font-family='"Liberation Serif", serif' font-size="11" fill="#333" text-anchor="middle" textLength="13.5" lengthAdjust="spacingAndGlyphs" stroke="#333" stroke-width="0.25">0.0</text>
<line x1="411.3" y1="497.2" x2="414.8" y2="497.2" stroke="#555" stroke-width="1" />
<text transform="translate(407.6,497.2) rotate(-90)" font-family='"Liberation Serif", serif' font-size="11" fill="#333" text-anchor="middle" textLength="13.5" lengthAdjust="spacingAndGlyphs" stroke="#333" stroke-width="0.25">0.2</text>
<line x1="473.44" y1="557.6" x2="473.44" y2="561.1" stroke="#555" stroke-width="1" />
<text x="473.44" y="575.2" font-family='"Liberation Serif", serif' font-size="11" fill="#333" text-anchor="middle" textLength="13.5" lengthAdjust="spacingAndGlyphs" stroke="#333" stroke-width="0.25">0.2</text>
<line x1="411.3" y1="445.8" x2="414.8" y2="445.8" stroke="#555" stroke-width="1" />
<text transform="translate(407.6,445.8) rotate(-90)" font-family='"Liberation Serif", serif' font-size="11" fill="#333" text-anchor="middle" textLength="13.5" lengthAdjust="spacingAndGlyphs" stroke="#333" stroke-width="0.25">0.4</text>
<line x1="522.08" y1="557.6" x2="522.08" y2="561.1" stroke="#555" stroke-width="1" />
<text x="522.08" y="575.2" font-family='"Liberation Serif", serif' font-size="11" fill="#333" text-anchor="middle" textLength="13.5" lengthAdjust="spacingAndGlyphs" stroke="#333" stroke-width="0.25">0.4</text>
<line x1="411.3" y1="394.4" x2="414.8" y2="394.4" stroke="#555" stroke-width="1" />
<text transform="translate(407.6,394.4) rotate(-90)" font-family='"Liberation Serif", serif' font-size="11" fill="#333" text-anchor="middle" textLength="13.5" lengthAdjust="spacingAndGlyphs" stroke="#333" stroke-width="0.25">0.6</text>
<line x1="570.72" y1="557.6" x2="570.72" y2="561.1" stroke="#555" stroke-width="1" />
<text x="570.72" y="575.2" font-family='"Liberation Serif", serif' font-size="11" fill="#333" text-anchor="middle" textLength="13.5" lengthAdjust="spacingAndGlyphs" stroke="#333" stroke-width="0.25">0.6</text>
<line x1="411.3" y1="343" x2="414.8" y2="343" stroke="#555" stroke-width="1" />
<text transform="translate(407.6,343) rotate(-90)" font-family='"Liberation Serif", serif' font-size="11" fill="#333" text-anchor="middle" textLength="13.5" lengthAdjust="spacingAndGlyphs" stroke="#333" stroke-width="0.25">0.8</text>
<line x1="619.36" y1="557.6" x2="619.36" y2="561.1" stroke="#555" stroke-width="1" />
<text x="619.36" y="575.2" font-family='"Liberation Serif", serif' font-size="11" fill="#333" text-anchor="middle" textLength="13.5" lengthAdjust="spacingAndGlyphs" stroke="#333" stroke-width="0.25">0.8</text>
<line x1="411.3" y1="291.6" x2="414.8" y2="291.6" stroke="#555" stroke-width="1" />
<text transform="translate(407.6,291.6) rotate(-90)" font-family='"Liberation Serif", serif' font-size="11" fill="#333" text-anchor="middle" textLength="13.5" lengthAdjust="spacingAndGlyphs" stroke="#333" stroke-width="0.25">1.0</text>
<line x1="668" y1="557.6" x2="668" y2="561.1" stroke="#555" stroke-width="1" />
<text x="668" y="575.2" font-family='"Liberation Serif", serif' font-size="11" fill="#333" text-anchor="middle" textLength="13.5" lengthAdjust="spacingAndGlyphs" stroke="#333" stroke-width="0.25">1.0</text>
<polyline points="424.8,504.91 424.8,373.84 433.31,317.3 453.98,297.51 509.92,293.14 570.72,291.6 668,291.6" fill="none" stroke="#3434d2" stroke-width="1.8" />
<text x="502.8" y="437.7" font-family='"Liberation Serif", serif' font-size="11" fill="#222" textLength="49.5" lengthAdjust="spacingAndGlyphs" stroke="#333" stroke-width="0.25">AUC=0.95</text>
<text x="502.8" y="450.6" font-family='"Liberation Serif", serif' font-size="11" fill="#222" textLength="78.4" lengthAdjust="spacingAndGlyphs" stroke="#333" stroke-width="0.25">95%CI: 0.87-0.98</text>
<text x="472" y="588.8" font-family='"Liberation Serif", serif' font-size="11" fill="#333" textLength="132.4" lengthAdjust="spacingAndGlyphs" stroke="#333" stroke-width="0.25">Specificity (False positive rate)</text>
<text transform="translate(394.5,493) rotate(-90)" font-family='"Liberation Serif", serif' font-size="11" fill="#333" textLength="142" lengthAdjust="spacingAndGlyphs" stroke="#333" stroke-width="0.25">Sensitivity (True positive rate)</text>
<text x="7" y="609.2" font-family='"Liberation Serif", serif' font-size="10.8" fill="#000" font-weight="bold" textLength="13.6" lengthAdjust="spacingAndGlyphs">(E)</text>
<line x1="43.8" y1="606" x2="43.8" y2="778.9" stroke="#6e6e6e" stroke-width="1.5" />
<line x1="43.1" y1="778.2" x2="241" y2="778.2" stroke="#6e6e6e" stroke-width="1.5" />
<line x1="43.8" y1="610.3" x2="47.6" y2="610.3" stroke="#555" stroke-width="1" />
<text x="40.6" y="613.4" font-family='"Liberation Sans", sans-serif' font-size="10.2" fill="#1a1a1a" font-weight="bold" text-anchor="end" textLength="10.2" lengthAdjust="spacingAndGlyphs">60</text>
<line x1="43.8" y1="642.82" x2="47.6" y2="642.82" stroke="#555" stroke-width="1" />
<text x="40.6" y="645.92" font-family='"Liberation Sans", sans-serif' font-size="10.2" fill="#1a1a1a" font-weight="bold" text-anchor="end" textLength="10.2" lengthAdjust="spacingAndGlyphs">50</text>
<line x1="43.8" y1="675.34" x2="47.6" y2="675.34" stroke="#555" stroke-width="1" />
<text x="40.6" y="678.44" font-family='"Liberation Sans", sans-serif' font-size="10.2" fill="#1a1a1a" font-weight="bold" text-anchor="end" textLength="10.2" lengthAdjust="spacingAndGlyphs">40</text>
<line x1="43.8" y1="707.86" x2="47.6" y2="707.86" stroke="#555" stroke-width="1" />
<text x="40.6" y="710.96" font-family='"Liberation Sans", sans-serif' font-size="10.2" fill="#1a1a1a" font-weight="bold" text-anchor="end" textLength="10.2" lengthAdjust="spacingAndGlyphs">30</text>
<line x1="43.8" y1="740.38" x2="47.6" y2="740.38" stroke="#555" stroke-width="1" />
<text x="40.6" y="743.48" font-family='"Liberation Sans", sans-serif' font-size="10.2" fill="#1a1a1a" font-weight="bold" text-anchor="end" textLength="10.2" lengthAdjust="spacingAndGlyphs">20</text>
<line x1="43.8" y1="772.9" x2="47.6" y2="772.9" stroke="#555" stroke-width="1" />
<text x="40.6" y="776" font-family='"Liberation Sans", sans-serif' font-size="10.2" fill="#1a1a1a" font-weight="bold" text-anchor="end" textLength="10.2" lengthAdjust="spacingAndGlyphs">10</text>
<line x1="109.7" y1="775" x2="109.7" y2="778.2" stroke="#6a6a6a" stroke-width="1" />
<line x1="202" y1="775" x2="202" y2="778.2" stroke="#6a6a6a" stroke-width="1" />
<text x="109.7" y="791" font-family='"Liberation Sans", sans-serif' font-size="10" fill="#1a1a1a" font-weight="bold" text-anchor="middle" textLength="18.2" lengthAdjust="spacingAndGlyphs">CTL</text>
<text x="202" y="791" font-family='"Liberation Sans", sans-serif' font-size="10" fill="#1a1a1a" font-weight="bold" text-anchor="middle" textLength="19.5" lengthAdjust="spacingAndGlyphs">AAN</text>
<text x="152.4" y="614.2" font-family='"Liberation Serif", serif' font-size="11" fill="#222" textLength="39.6" lengthAdjust="spacingAndGlyphs" stroke="#333" stroke-width="0.25">PC(18:3)</text>
<line x1="109.5" y1="630.5" x2="109.5" y2="651.5" stroke="#389838" stroke-width="1.2" />
<line x1="109.5" y1="679.5" x2="109.5" y2="692.5" stroke="#389838" stroke-width="1.2" />
<line x1="92.5" y1="630.5" x2="126.5" y2="630.5" stroke="#389838" stroke-width="1.3" />
<line x1="92.5" y1="692.5" x2="126.5" y2="692.5" stroke="#389838" stroke-width="1.3" />
<rect x="74.5" y="651.5" width="69" height="28" fill="none" stroke="#389838" stroke-width="1.2" />
<line x1="74.5" y1="662.5" x2="143.5" y2="662.5" stroke="#389838" stroke-width="1.2" />
<circle cx="109.5" cy="630.4" r="1.55" fill="#fff" stroke="#1c1c90" stroke-width="1.0"/>
<circle cx="109.5" cy="649" r="1.55" fill="#fff" stroke="#1c1c90" stroke-width="1.0"/>
<circle cx="109.5" cy="651" r="1.55" fill="#fff" stroke="#1c1c90" stroke-width="1.0"/>
<circle cx="109.5" cy="656" r="1.55" fill="#fff" stroke="#1c1c90" stroke-width="1.0"/>
<circle cx="109.5" cy="669.4" r="1.55" fill="#fff" stroke="#1c1c90" stroke-width="1.0"/>
<circle cx="109.5" cy="676" r="1.55" fill="#fff" stroke="#1c1c90" stroke-width="1.0"/>
<circle cx="109.5" cy="682.4" r="1.55" fill="#fff" stroke="#1c1c90" stroke-width="1.0"/>
<circle cx="109.5" cy="692" r="1.55" fill="#fff" stroke="#1c1c90" stroke-width="1.0"/>
<rect x="107.9" y="661.4" width="3.2" height="3.2" fill="#cc3a3a" stroke="#d87070" stroke-width="0.5"/>
<line x1="202.5" y1="718.5" x2="202.5" y2="729.5" stroke="#389838" stroke-width="1.2" />
<line x1="202.5" y1="760.5" x2="202.5" y2="770.5" stroke="#389838" stroke-width="1.2" />
<line x1="185.5" y1="718.5" x2="219.5" y2="718.5" stroke="#389838" stroke-width="1.3" />
<line x1="185.5" y1="770.5" x2="219.5" y2="770.5" stroke="#389838" stroke-width="1.3" />
<rect x="167.5" y="729.5" width="69" height="31" fill="none" stroke="#389838" stroke-width="1.2" />
<line x1="167.5" y1="746.5" x2="236.5" y2="746.5" stroke="#389838" stroke-width="1.2" />
<circle cx="202.5" cy="717.4" r="1.55" fill="#fff" stroke="#1c1c90" stroke-width="1.0"/>
<circle cx="202.5" cy="721" r="1.55" fill="#fff" stroke="#1c1c90" stroke-width="1.0"/>
<circle cx="202.5" cy="737.4" r="1.55" fill="#fff" stroke="#1c1c90" stroke-width="1.0"/>
<circle cx="202.5" cy="746" r="1.55" fill="#fff" stroke="#1c1c90" stroke-width="1.0"/>
<circle cx="202.5" cy="757" r="1.55" fill="#fff" stroke="#1c1c90" stroke-width="1.0"/>
<circle cx="202.5" cy="763.6" r="1.55" fill="#fff" stroke="#1c1c90" stroke-width="1.0"/>
<circle cx="202.5" cy="770" r="1.55" fill="#fff" stroke="#1c1c90" stroke-width="1.0"/>
<rect x="200.9" y="742.8" width="3.2" height="3.2" fill="#cc3a3a" stroke="#d87070" stroke-width="0.5"/>
<text x="200.5" y="712.5" font-family='"Liberation Sans", sans-serif' font-size="10" fill="#222" text-anchor="middle" textLength="8.5" lengthAdjust="spacingAndGlyphs">**</text>
<line x1="264.5" y1="605" x2="264.5" y2="779.7" stroke="#6e6e6e" stroke-width="1.5" />
<line x1="263.8" y1="779" x2="463.3" y2="779" stroke="#6e6e6e" stroke-width="1.5" />
<line x1="264.5" y1="610.05" x2="268.3" y2="610.05" stroke="#555" stroke-width="1" />
<text x="261.3" y="613.15" font-family='"Liberation Sans", sans-serif' font-size="10.2" fill="#1a1a1a" font-weight="bold" text-anchor="end" textLength="15.8" lengthAdjust="spacingAndGlyphs">100</text>
<line x1="264.5" y1="642.98" x2="268.3" y2="642.98" stroke="#555" stroke-width="1" />
<text x="261.3" y="646.08" font-family='"Liberation Sans", sans-serif' font-size="10.2" fill="#1a1a1a" font-weight="bold" text-anchor="end" textLength="10.2" lengthAdjust="spacingAndGlyphs">80</text>
<line x1="264.5" y1="675.91" x2="268.3" y2="675.91" stroke="#555" stroke-width="1" />
<text x="261.3" y="679.01" font-family='"Liberation Sans", sans-serif' font-size="10.2" fill="#1a1a1a" font-weight="bold" text-anchor="end" textLength="10.2" lengthAdjust="spacingAndGlyphs">60</text>
<line x1="264.5" y1="708.84" x2="268.3" y2="708.84" stroke="#555" stroke-width="1" />
<text x="261.3" y="711.94" font-family='"Liberation Sans", sans-serif' font-size="10.2" fill="#1a1a1a" font-weight="bold" text-anchor="end" textLength="10.2" lengthAdjust="spacingAndGlyphs">40</text>
<line x1="264.5" y1="741.77" x2="268.3" y2="741.77" stroke="#555" stroke-width="1" />
<text x="261.3" y="744.87" font-family='"Liberation Sans", sans-serif' font-size="10.2" fill="#1a1a1a" font-weight="bold" text-anchor="end" textLength="10.2" lengthAdjust="spacingAndGlyphs">20</text>
<line x1="264.5" y1="774.7" x2="268.3" y2="774.7" stroke="#555" stroke-width="1" />
<text x="261.3" y="777.8" font-family='"Liberation Sans", sans-serif' font-size="10.2" fill="#1a1a1a" font-weight="bold" text-anchor="end" textLength="5.2" lengthAdjust="spacingAndGlyphs">0</text>
<line x1="324" y1="775.8" x2="324" y2="779" stroke="#6a6a6a" stroke-width="1" />
<line x1="407.2" y1="775.8" x2="407.2" y2="779" stroke="#6a6a6a" stroke-width="1" />
<text x="324" y="791.8" font-family='"Liberation Sans", sans-serif' font-size="10" fill="#1a1a1a" font-weight="bold" text-anchor="middle" textLength="18.2" lengthAdjust="spacingAndGlyphs">CTL</text>
<text x="407.2" y="791.8" font-family='"Liberation Sans", sans-serif' font-size="10" fill="#1a1a1a" font-weight="bold" text-anchor="middle" textLength="19.5" lengthAdjust="spacingAndGlyphs">AAN</text>
<text x="270" y="615.4" font-family='"Liberation Serif", serif' font-size="11.5" fill="#222" textLength="82" lengthAdjust="spacingAndGlyphs" stroke="#333" stroke-width="0.25">DG(15:0/20:5/0:0)</text>
<line x1="324.5" y1="713.5" x2="324.5" y2="726.5" stroke="#389838" stroke-width="1.2" />
<line x1="324.5" y1="746.5" x2="324.5" y2="752.5" stroke="#389838" stroke-width="1.2" />
<line x1="308.5" y1="713.5" x2="339.5" y2="713.5" stroke="#389838" stroke-width="1.3" />
<line x1="308.5" y1="752.5" x2="339.5" y2="752.5" stroke="#389838" stroke-width="1.3" />
<rect x="293.5" y="726.5" width="62" height="20" fill="none" stroke="#389838" stroke-width="1.2" />
<line x1="293.5" y1="741.5" x2="355.5" y2="741.5" stroke="#389838" stroke-width="1.2" />
<circle cx="324.5" cy="713.6" r="1.55" fill="#fff" stroke="#1c1c90" stroke-width="1.0"/>
<circle cx="324.5" cy="717" r="1.55" fill="#fff" stroke="#1c1c90" stroke-width="1.0"/>
<circle cx="324.5" cy="735" r="1.55" fill="#fff" stroke="#1c1c90" stroke-width="1.0"/>
<circle cx="324.5" cy="738" r="1.55" fill="#fff" stroke="#1c1c90" stroke-width="1.0"/>
<circle cx="324.5" cy="742.8" r="1.55" fill="#fff" stroke="#1c1c90" stroke-width="1.0"/>
<circle cx="324.5" cy="745" r="1.55" fill="#fff" stroke="#1c1c90" stroke-width="1.0"/>
<circle cx="324.5" cy="746.5" r="1.55" fill="#fff" stroke="#1c1c90" stroke-width="1.0"/>
<circle cx="324.5" cy="751.8" r="1.55" fill="#fff" stroke="#1c1c90" stroke-width="1.0"/>
<rect x="322.9" y="735.1" width="3.2" height="3.2" fill="#cc3a3a" stroke="#d87070" stroke-width="0.5"/>
<line x1="407.5" y1="618.5" x2="407.5" y2="648.5" stroke="#389838" stroke-width="1.2" />
<line x1="407.5" y1="671.5" x2="407.5" y2="676.5" stroke="#389838" stroke-width="1.2" />
<line x1="391.5" y1="618.5" x2="423.5" y2="618.5" stroke="#389838" stroke-width="1.3" />
<line x1="391.5" y1="676.5" x2="423.5" y2="676.5" stroke="#389838" stroke-width="1.3" />
<rect x="376.5" y="648.5" width="62" height="23" fill="none" stroke="#389838" stroke-width="1.2" />
<line x1="376.5" y1="659.5" x2="438.5" y2="659.5" stroke="#389838" stroke-width="1.2" />
<circle cx="407.5" cy="618.9" r="1.55" fill="#fff" stroke="#1c1c90" stroke-width="1.0"/>
<circle cx="407.5" cy="643" r="1.55" fill="#fff" stroke="#1c1c90" stroke-width="1.0"/>
<circle cx="407.5" cy="652" r="1.55" fill="#fff" stroke="#1c1c90" stroke-width="1.0"/>
<circle cx="407.5" cy="657" r="1.55" fill="#fff" stroke="#1c1c90" stroke-width="1.0"/>
<circle cx="407.5" cy="659.8" r="1.55" fill="#fff" stroke="#1c1c90" stroke-width="1.0"/>
<circle cx="407.5" cy="668.2" r="1.55" fill="#fff" stroke="#1c1c90" stroke-width="1.0"/>
<circle cx="407.5" cy="674" r="1.55" fill="#fff" stroke="#1c1c90" stroke-width="1.0"/>
<circle cx="407.5" cy="676.6" r="1.55" fill="#fff" stroke="#1c1c90" stroke-width="1.0"/>
<rect x="405.9" y="653.9" width="3.2" height="3.2" fill="#cc3a3a" stroke="#d87070" stroke-width="0.5"/>
<text x="405.3" y="616" font-family='"Liberation Sans", sans-serif' font-size="10" fill="#222" text-anchor="middle" textLength="8.5" lengthAdjust="spacingAndGlyphs">**</text>
<line x1="485.2" y1="605" x2="485.2" y2="778.7" stroke="#6e6e6e" stroke-width="1.5" />
<line x1="484.5" y1="778" x2="678.3" y2="778" stroke="#6e6e6e" stroke-width="1.5" />
<line x1="485.2" y1="609.9" x2="489" y2="609.9" stroke="#555" stroke-width="1" />
<text x="482" y="613" font-family='"Liberation Sans", sans-serif' font-size="10.2" fill="#1a1a1a" font-weight="bold" text-anchor="end" textLength="15.8" lengthAdjust="spacingAndGlyphs">100</text>
<line x1="485.2" y1="650.92" x2="489" y2="650.92" stroke="#555" stroke-width="1" />
<text x="482" y="654.02" font-family='"Liberation Sans", sans-serif' font-size="10.2" fill="#1a1a1a" font-weight="bold" text-anchor="end" textLength="10.2" lengthAdjust="spacingAndGlyphs">75</text>
<line x1="485.2" y1="691.95" x2="489" y2="691.95" stroke="#555" stroke-width="1" />
<text x="482" y="695.05" font-family='"Liberation Sans", sans-serif' font-size="10.2" fill="#1a1a1a" font-weight="bold" text-anchor="end" textLength="10.2" lengthAdjust="spacingAndGlyphs">50</text>
<line x1="485.2" y1="732.98" x2="489" y2="732.98" stroke="#555" stroke-width="1" />
<text x="482" y="736.08" font-family='"Liberation Sans", sans-serif' font-size="10.2" fill="#1a1a1a" font-weight="bold" text-anchor="end" textLength="10.2" lengthAdjust="spacingAndGlyphs">25</text>
<line x1="485.2" y1="774" x2="489" y2="774" stroke="#555" stroke-width="1" />
<text x="482" y="777.1" font-family='"Liberation Sans", sans-serif' font-size="10.2" fill="#1a1a1a" font-weight="bold" text-anchor="end" textLength="5.2" lengthAdjust="spacingAndGlyphs">0</text>
<line x1="543.3" y1="774.8" x2="543.3" y2="778" stroke="#6a6a6a" stroke-width="1" />
<line x1="624.6" y1="774.8" x2="624.6" y2="778" stroke="#6a6a6a" stroke-width="1" />
<text x="543.3" y="790.8" font-family='"Liberation Sans", sans-serif' font-size="10" fill="#1a1a1a" font-weight="bold" text-anchor="middle" textLength="18.2" lengthAdjust="spacingAndGlyphs">CTL</text>
<text x="624.6" y="790.8" font-family='"Liberation Sans", sans-serif' font-size="10" fill="#1a1a1a" font-weight="bold" text-anchor="middle" textLength="19.5" lengthAdjust="spacingAndGlyphs">AAN</text>
<text x="488.6" y="615.2" font-family='"Liberation Serif", serif' font-size="11.5" fill="#222" textLength="82.2" lengthAdjust="spacingAndGlyphs" stroke="#333" stroke-width="0.25">DG(15:0/0:0/15:0)</text>
<line x1="543.5" y1="699.5" x2="543.5" y2="711.5" stroke="#389838" stroke-width="1.2" />
<line x1="543.5" y1="733.5" x2="543.5" y2="749.5" stroke="#389838" stroke-width="1.2" />
<line x1="529.5" y1="699.5" x2="558.5" y2="699.5" stroke="#389838" stroke-width="1.3" />
<line x1="529.5" y1="749.5" x2="558.5" y2="749.5" stroke="#389838" stroke-width="1.3" />
<rect x="513.5" y="711.5" width="61" height="22" fill="none" stroke="#389838" stroke-width="1.2" />
<line x1="513.5" y1="721.5" x2="574.5" y2="721.5" stroke="#389838" stroke-width="1.2" />
<circle cx="543.5" cy="699" r="1.55" fill="#fff" stroke="#1c1c90" stroke-width="1.0"/>
<circle cx="543.5" cy="708.2" r="1.55" fill="#fff" stroke="#1c1c90" stroke-width="1.0"/>
<circle cx="543.5" cy="711.6" r="1.55" fill="#fff" stroke="#1c1c90" stroke-width="1.0"/>
<circle cx="543.5" cy="717" r="1.55" fill="#fff" stroke="#1c1c90" stroke-width="1.0"/>
<circle cx="544.5" cy="724.3" r="1.55" fill="#fff" stroke="#1c1c90" stroke-width="1.0"/>
<circle cx="542.5" cy="726" r="1.55" fill="#fff" stroke="#1c1c90" stroke-width="1.0"/>
<circle cx="543.5" cy="739.8" r="1.55" fill="#fff" stroke="#1c1c90" stroke-width="1.0"/>
<circle cx="543.5" cy="749.8" r="1.55" fill="#fff" stroke="#1c1c90" stroke-width="1.0"/>
<rect x="541.9" y="720" width="3.2" height="3.2" fill="#cc3a3a" stroke="#d87070" stroke-width="0.5"/>
<line x1="624.5" y1="612.5" x2="624.5" y2="621.5" stroke="#389838" stroke-width="1.2" />
<line x1="624.5" y1="657.5" x2="624.5" y2="672.5" stroke="#389838" stroke-width="1.2" />
<line x1="609.5" y1="612.5" x2="639.5" y2="612.5" stroke="#389838" stroke-width="1.3" />
<line x1="609.5" y1="672.5" x2="639.5" y2="672.5" stroke="#389838" stroke-width="1.3" />
<rect x="594.5" y="621.5" width="61" height="36" fill="none" stroke="#389838" stroke-width="1.2" />
<line x1="594.5" y1="642.5" x2="655.5" y2="642.5" stroke="#389838" stroke-width="1.2" />
<circle cx="624.5" cy="612.5" r="1.55" fill="#fff" stroke="#1c1c90" stroke-width="1.0"/>
<circle cx="624.5" cy="619.2" r="1.55" fill="#fff" stroke="#1c1c90" stroke-width="1.0"/>
<circle cx="624.5" cy="623.6" r="1.55" fill="#fff" stroke="#1c1c90" stroke-width="1.0"/>
<circle cx="624.5" cy="644.7" r="1.55" fill="#fff" stroke="#1c1c90" stroke-width="1.0"/>
<circle cx="624.5" cy="651.5" r="1.55" fill="#fff" stroke="#1c1c90" stroke-width="1.0"/>
<circle cx="624.5" cy="662.5" r="1.55" fill="#fff" stroke="#1c1c90" stroke-width="1.0"/>
<circle cx="624.5" cy="672.3" r="1.55" fill="#fff" stroke="#1c1c90" stroke-width="1.0"/>
<rect x="622.9" y="638.8" width="3.2" height="3.2" fill="#cc3a3a" stroke="#d87070" stroke-width="0.5"/>
<text x="622" y="609" font-family='"Liberation Sans", sans-serif' font-size="10" fill="#222" text-anchor="middle" textLength="8.5" lengthAdjust="spacingAndGlyphs">**</text>
<line x1="43.7" y1="801" x2="43.7" y2="968.7" stroke="#6e6e6e" stroke-width="1.5" />
<line x1="43" y1="968" x2="242" y2="968" stroke="#6e6e6e" stroke-width="1.5" />
<line x1="43.7" y1="805.75" x2="47.5" y2="805.75" stroke="#555" stroke-width="1" />
<text x="40.5" y="808.85" font-family='"Liberation Sans", sans-serif' font-size="10.2" fill="#1a1a1a" font-weight="bold" text-anchor="end" textLength="10.2" lengthAdjust="spacingAndGlyphs">50</text>
<line x1="43.7" y1="837.2" x2="47.5" y2="837.2" stroke="#555" stroke-width="1" />
<text x="40.5" y="840.3" font-family='"Liberation Sans", sans-serif' font-size="10.2" fill="#1a1a1a" font-weight="bold" text-anchor="end" textLength="10.2" lengthAdjust="spacingAndGlyphs">40</text>
<line x1="43.7" y1="868.65" x2="47.5" y2="868.65" stroke="#555" stroke-width="1" />
<text x="40.5" y="871.75" font-family='"Liberation Sans", sans-serif' font-size="10.2" fill="#1a1a1a" font-weight="bold" text-anchor="end" textLength="10.2" lengthAdjust="spacingAndGlyphs">30</text>
<line x1="43.7" y1="900.1" x2="47.5" y2="900.1" stroke="#555" stroke-width="1" />
<text x="40.5" y="903.2" font-family='"Liberation Sans", sans-serif' font-size="10.2" fill="#1a1a1a" font-weight="bold" text-anchor="end" textLength="10.2" lengthAdjust="spacingAndGlyphs">20</text>
<line x1="43.7" y1="931.55" x2="47.5" y2="931.55" stroke="#555" stroke-width="1" />
<text x="40.5" y="934.65" font-family='"Liberation Sans", sans-serif' font-size="10.2" fill="#1a1a1a" font-weight="bold" text-anchor="end" textLength="10.2" lengthAdjust="spacingAndGlyphs">10</text>
<line x1="43.7" y1="963" x2="47.5" y2="963" stroke="#555" stroke-width="1" />
<text x="40.5" y="966.1" font-family='"Liberation Sans", sans-serif' font-size="10.2" fill="#1a1a1a" font-weight="bold" text-anchor="end" textLength="5.2" lengthAdjust="spacingAndGlyphs">0</text>
<line x1="101.7" y1="964.8" x2="101.7" y2="968" stroke="#6a6a6a" stroke-width="1" />
<line x1="183.3" y1="964.8" x2="183.3" y2="968" stroke="#6a6a6a" stroke-width="1" />
<text x="101.7" y="980.8" font-family='"Liberation Sans", sans-serif' font-size="10" fill="#1a1a1a" font-weight="bold" text-anchor="middle" textLength="18.2" lengthAdjust="spacingAndGlyphs">CTL</text>
<text x="183.3" y="980.8" font-family='"Liberation Sans", sans-serif' font-size="10" fill="#1a1a1a" font-weight="bold" text-anchor="middle" textLength="19.5" lengthAdjust="spacingAndGlyphs">AAN</text>
<text x="53" y="810" font-family='"Liberation Serif", serif' font-size="11" fill="#222" textLength="74" lengthAdjust="spacingAndGlyphs" stroke="#333" stroke-width="0.25">Stearoylcarnitine</text>
<line x1="101.5" y1="833.5" x2="101.5" y2="840.5" stroke="#389838" stroke-width="1.2" />
<line x1="101.5" y1="862.5" x2="101.5" y2="884.5" stroke="#389838" stroke-width="1.2" />
<line x1="87.5" y1="833.5" x2="117.5" y2="833.5" stroke="#389838" stroke-width="1.3" />
<line x1="87.5" y1="884.5" x2="117.5" y2="884.5" stroke="#389838" stroke-width="1.3" />
<rect x="71.5" y="840.5" width="61" height="22" fill="none" stroke="#389838" stroke-width="1.2" />
<line x1="71.5" y1="850.5" x2="132.5" y2="850.5" stroke="#389838" stroke-width="1.2" />
<circle cx="101.5" cy="833.3" r="1.55" fill="#fff" stroke="#1c1c90" stroke-width="1.0"/>
<circle cx="101.5" cy="837" r="1.55" fill="#fff" stroke="#1c1c90" stroke-width="1.0"/>
<circle cx="101.5" cy="842.7" r="1.55" fill="#fff" stroke="#1c1c90" stroke-width="1.0"/>
<circle cx="101.5" cy="846" r="1.55" fill="#fff" stroke="#1c1c90" stroke-width="1.0"/>
<circle cx="103" cy="853" r="1.55" fill="#fff" stroke="#1c1c90" stroke-width="1.0"/>
<circle cx="101.5" cy="871.6" r="1.55" fill="#fff" stroke="#1c1c90" stroke-width="1.0"/>
<circle cx="101.5" cy="884.4" r="1.55" fill="#fff" stroke="#1c1c90" stroke-width="1.0"/>
<rect x="99.9" y="850.9" width="3.2" height="3.2" fill="#cc3a3a" stroke="#d87070" stroke-width="0.5"/>
<line x1="183.5" y1="871.5" x2="183.5" y2="894.5" stroke="#389838" stroke-width="1.2" />
<line x1="183.5" y1="916.5" x2="183.5" y2="931.5" stroke="#389838" stroke-width="1.2" />
<line x1="168.5" y1="871.5" x2="198.5" y2="871.5" stroke="#389838" stroke-width="1.3" />
<line x1="168.5" y1="931.5" x2="198.5" y2="931.5" stroke="#389838" stroke-width="1.3" />
<rect x="152.5" y="894.5" width="62" height="22" fill="none" stroke="#389838" stroke-width="1.2" />
<line x1="152.5" y1="907.5" x2="214.5" y2="907.5" stroke="#389838" stroke-width="1.2" />
<circle cx="183.5" cy="871.6" r="1.55" fill="#fff" stroke="#1c1c90" stroke-width="1.0"/>
<circle cx="183.5" cy="887.4" r="1.55" fill="#fff" stroke="#1c1c90" stroke-width="1.0"/>
<circle cx="183.5" cy="899.8" r="1.55" fill="#fff" stroke="#1c1c90" stroke-width="1.0"/>
<circle cx="183.5" cy="907.5" r="1.55" fill="#fff" stroke="#1c1c90" stroke-width="1.0"/>
<circle cx="183.5" cy="909.2" r="1.55" fill="#fff" stroke="#1c1c90" stroke-width="1.0"/>
<circle cx="182" cy="916" r="1.55" fill="#fff" stroke="#1c1c90" stroke-width="1.0"/>
<circle cx="185" cy="916" r="1.55" fill="#fff" stroke="#1c1c90" stroke-width="1.0"/>
<circle cx="183.5" cy="931.4" r="1.55" fill="#fff" stroke="#1c1c90" stroke-width="1.0"/>
<rect x="181.9" y="902.4" width="3.2" height="3.2" fill="#cc3a3a" stroke="#d87070" stroke-width="0.5"/>
<text x="180.8" y="867" font-family='"Liberation Sans", sans-serif' font-size="10" fill="#222" text-anchor="middle" textLength="8.5" lengthAdjust="spacingAndGlyphs">**</text>
<line x1="267" y1="808" x2="267" y2="970.3" stroke="#6e6e6e" stroke-width="1.5" />
<line x1="266.3" y1="969.6" x2="463" y2="969.6" stroke="#6e6e6e" stroke-width="1.5" />
<line x1="267" y1="812.1" x2="270.8" y2="812.1" stroke="#555" stroke-width="1" />
<text x="263.8" y="815.2" font-family='"Liberation Sans", sans-serif' font-size="10.2" fill="#1a1a1a" font-weight="bold" text-anchor="end" textLength="10.2" lengthAdjust="spacingAndGlyphs">90</text>
<line x1="267" y1="850.4" x2="270.8" y2="850.4" stroke="#555" stroke-width="1" />
<text x="263.8" y="853.5" font-family='"Liberation Sans", sans-serif' font-size="10.2" fill="#1a1a1a" font-weight="bold" text-anchor="end" textLength="10.2" lengthAdjust="spacingAndGlyphs">70</text>
<line x1="267" y1="888.7" x2="270.8" y2="888.7" stroke="#555" stroke-width="1" />
<text x="263.8" y="891.8" font-family='"Liberation Sans", sans-serif' font-size="10.2" fill="#1a1a1a" font-weight="bold" text-anchor="end" textLength="10.2" lengthAdjust="spacingAndGlyphs">50</text>
<line x1="267" y1="927" x2="270.8" y2="927" stroke="#555" stroke-width="1" />
<text x="263.8" y="930.1" font-family='"Liberation Sans", sans-serif' font-size="10.2" fill="#1a1a1a" font-weight="bold" text-anchor="end" textLength="10.2" lengthAdjust="spacingAndGlyphs">30</text>
<line x1="267" y1="965.3" x2="270.8" y2="965.3" stroke="#555" stroke-width="1" />
<text x="263.8" y="968.4" font-family='"Liberation Sans", sans-serif' font-size="10.2" fill="#1a1a1a" font-weight="bold" text-anchor="end" textLength="10.2" lengthAdjust="spacingAndGlyphs">10</text>
<line x1="325.7" y1="966.4" x2="325.7" y2="969.6" stroke="#6a6a6a" stroke-width="1" />
<line x1="409" y1="966.4" x2="409" y2="969.6" stroke="#6a6a6a" stroke-width="1" />
<text x="325.7" y="982.4" font-family='"Liberation Sans", sans-serif' font-size="10" fill="#1a1a1a" font-weight="bold" text-anchor="middle" textLength="18.2" lengthAdjust="spacingAndGlyphs">CTL</text>
<text x="409" y="982.4" font-family='"Liberation Sans", sans-serif' font-size="10" fill="#1a1a1a" font-weight="bold" text-anchor="middle" textLength="19.5" lengthAdjust="spacingAndGlyphs">AAN</text>
<text x="282" y="816.8" font-family='"Liberation Serif", serif' font-size="11" fill="#222" textLength="80.7" lengthAdjust="spacingAndGlyphs" stroke="#333" stroke-width="0.25">Palmitoylcarnitine</text>
<line x1="325.5" y1="936.5" x2="325.5" y2="942.5" stroke="#389838" stroke-width="1.2" />
<line x1="325.5" y1="953.5" x2="325.5" y2="959.5" stroke="#389838" stroke-width="1.2" />
<line x1="310.5" y1="936.5" x2="341.5" y2="936.5" stroke="#389838" stroke-width="1.3" />
<line x1="310.5" y1="959.5" x2="341.5" y2="959.5" stroke="#389838" stroke-width="1.3" />
<rect x="294.5" y="942.5" width="63" height="11" fill="none" stroke="#389838" stroke-width="1.2" />
<line x1="294.5" y1="947.5" x2="357.5" y2="947.5" stroke="#389838" stroke-width="1.2" />
<circle cx="326.5" cy="936.7" r="1.55" fill="#fff" stroke="#1c1c90" stroke-width="1.0"/>
<circle cx="324.5" cy="938.8" r="1.55" fill="#fff" stroke="#1c1c90" stroke-width="1.0"/>
<circle cx="325.5" cy="945.5" r="1.55" fill="#fff" stroke="#1c1c90" stroke-width="1.0"/>
<circle cx="324" cy="948.8" r="1.55" fill="#fff" stroke="#1c1c90" stroke-width="1.0"/>
<circle cx="325.5" cy="950.5" r="1.55" fill="#fff" stroke="#1c1c90" stroke-width="1.0"/>
<circle cx="325.5" cy="956.2" r="1.55" fill="#fff" stroke="#1c1c90" stroke-width="1.0"/>
<circle cx="325.5" cy="959.6" r="1.55" fill="#fff" stroke="#1c1c90" stroke-width="1.0"/>
<rect x="323.9" y="945.6" width="3.2" height="3.2" fill="#cc3a3a" stroke="#d87070" stroke-width="0.5"/>
<line x1="409.5" y1="842.5" x2="409.5" y2="870.5" stroke="#389838" stroke-width="1.2" />
<line x1="409.5" y1="908.5" x2="409.5" y2="919.5" stroke="#389838" stroke-width="1.2" />
<line x1="393.5" y1="842.5" x2="424.5" y2="842.5" stroke="#389838" stroke-width="1.3" />
<line x1="393.5" y1="919.5" x2="424.5" y2="919.5" stroke="#389838" stroke-width="1.3" />
<rect x="377.5" y="870.5" width="64" height="38" fill="none" stroke="#389838" stroke-width="1.2" />
<line x1="377.5" y1="901.5" x2="441.5" y2="901.5" stroke="#389838" stroke-width="1.2" />
<circle cx="409.5" cy="842" r="1.55" fill="#fff" stroke="#1c1c90" stroke-width="1.0"/>
<circle cx="409.5" cy="851.5" r="1.55" fill="#fff" stroke="#1c1c90" stroke-width="1.0"/>
<circle cx="409.5" cy="898.5" r="1.55" fill="#fff" stroke="#1c1c90" stroke-width="1.0"/>
<circle cx="407.5" cy="904.2" r="1.55" fill="#fff" stroke="#1c1c90" stroke-width="1.0"/>
<circle cx="411.5" cy="905.8" r="1.55" fill="#fff" stroke="#1c1c90" stroke-width="1.0"/>
<circle cx="409.5" cy="909.9" r="1.55" fill="#fff" stroke="#1c1c90" stroke-width="1.0"/>
<circle cx="409.5" cy="919.6" r="1.55" fill="#fff" stroke="#1c1c90" stroke-width="1.0"/>
<rect x="407.9" y="888.4" width="3.2" height="3.2" fill="#cc3a3a" stroke="#d87070" stroke-width="0.5"/>
<text x="407.2" y="838" font-family='"Liberation Sans", sans-serif' font-size="10" fill="#222" text-anchor="middle" textLength="8.5" lengthAdjust="spacingAndGlyphs">**</text>
<line x1="486.9" y1="807" x2="486.9" y2="969.7" stroke="#6e6e6e" stroke-width="1.5" />
<line x1="486.2" y1="969" x2="678.3" y2="969" stroke="#6e6e6e" stroke-width="1.5" />
<line x1="486.9" y1="811.7" x2="490.7" y2="811.7" stroke="#555" stroke-width="1" />
<text x="483.7" y="814.8" font-family='"Liberation Sans", sans-serif' font-size="10.2" fill="#1a1a1a" font-weight="bold" text-anchor="end" textLength="15.8" lengthAdjust="spacingAndGlyphs">400</text>
<line x1="486.9" y1="862.9" x2="490.7" y2="862.9" stroke="#555" stroke-width="1" />
<text x="483.7" y="866" font-family='"Liberation Sans", sans-serif' font-size="10.2" fill="#1a1a1a" font-weight="bold" text-anchor="end" textLength="15.8" lengthAdjust="spacingAndGlyphs">300</text>
<line x1="486.9" y1="914.1" x2="490.7" y2="914.1" stroke="#555" stroke-width="1" />
<text x="483.7" y="917.2" font-family='"Liberation Sans", sans-serif' font-size="10.2" fill="#1a1a1a" font-weight="bold" text-anchor="end" textLength="15.8" lengthAdjust="spacingAndGlyphs">200</text>
<line x1="486.9" y1="965.3" x2="490.7" y2="965.3" stroke="#555" stroke-width="1" />
<text x="483.7" y="968.4" font-family='"Liberation Sans", sans-serif' font-size="10.2" fill="#1a1a1a" font-weight="bold" text-anchor="end" textLength="15.8" lengthAdjust="spacingAndGlyphs">100</text>
<line x1="543.3" y1="965.8" x2="543.3" y2="969" stroke="#6a6a6a" stroke-width="1" />
<line x1="624.6" y1="965.8" x2="624.6" y2="969" stroke="#6a6a6a" stroke-width="1" />
<text x="543.3" y="981.8" font-family='"Liberation Sans", sans-serif' font-size="10" fill="#1a1a1a" font-weight="bold" text-anchor="middle" textLength="18.2" lengthAdjust="spacingAndGlyphs">CTL</text>
<text x="624.6" y="981.8" font-family='"Liberation Sans", sans-serif' font-size="10" fill="#1a1a1a" font-weight="bold" text-anchor="middle" textLength="19.5" lengthAdjust="spacingAndGlyphs">AAN</text>
<text x="582.6" y="823.5" font-family='"Liberation Serif", serif' font-size="11" fill="#222" textLength="62" lengthAdjust="spacingAndGlyphs" stroke="#333" stroke-width="0.25">PC(18:3/22:6)</text>
<line x1="543.5" y1="815.5" x2="543.5" y2="829.5" stroke="#389838" stroke-width="1.2" />
<line x1="543.5" y1="890.5" x2="543.5" y2="906.5" stroke="#389838" stroke-width="1.2" />
<line x1="529.5" y1="815.5" x2="558.5" y2="815.5" stroke="#389838" stroke-width="1.3" />
<line x1="529.5" y1="906.5" x2="558.5" y2="906.5" stroke="#389838" stroke-width="1.3" />
<rect x="513.5" y="829.5" width="61" height="61" fill="none" stroke="#389838" stroke-width="1.2" />
<line x1="513.5" y1="857.5" x2="574.5" y2="857.5" stroke="#389838" stroke-width="1.2" />
<circle cx="543.5" cy="815.2" r="1.55" fill="#fff" stroke="#1c1c90" stroke-width="1.0"/>
<circle cx="543.5" cy="828" r="1.55" fill="#fff" stroke="#1c1c90" stroke-width="1.0"/>
<circle cx="543.5" cy="830.3" r="1.55" fill="#fff" stroke="#1c1c90" stroke-width="1.0"/>
<circle cx="543.5" cy="835.3" r="1.55" fill="#fff" stroke="#1c1c90" stroke-width="1.0"/>
<circle cx="543.5" cy="879" r="1.55" fill="#fff" stroke="#1c1c90" stroke-width="1.0"/>
<circle cx="543.5" cy="886.4" r="1.55" fill="#fff" stroke="#1c1c90" stroke-width="1.0"/>
<circle cx="543.5" cy="894" r="1.55" fill="#fff" stroke="#1c1c90" stroke-width="1.0"/>
<circle cx="543.5" cy="906.9" r="1.55" fill="#fff" stroke="#1c1c90" stroke-width="1.0"/>
<rect x="541.9" y="857.6" width="3.2" height="3.2" fill="#cc3a3a" stroke="#d87070" stroke-width="0.5"/>
<line x1="624.5" y1="898.5" x2="624.5" y2="916.5" stroke="#389838" stroke-width="1.2" />
<line x1="624.5" y1="939.5" x2="624.5" y2="942.5" stroke="#389838" stroke-width="1.2" />
<line x1="609.5" y1="898.5" x2="639.5" y2="898.5" stroke="#389838" stroke-width="1.3" />
<line x1="609.5" y1="942.5" x2="639.5" y2="942.5" stroke="#389838" stroke-width="1.3" />
<rect x="594.5" y="916.5" width="61" height="23" fill="none" stroke="#389838" stroke-width="1.2" />
<line x1="594.5" y1="931.5" x2="655.5" y2="931.5" stroke="#389838" stroke-width="1.2" />
<circle cx="624.5" cy="898.5" r="1.55" fill="#fff" stroke="#1c1c90" stroke-width="1.0"/>
<circle cx="624.5" cy="915.3" r="1.55" fill="#fff" stroke="#1c1c90" stroke-width="1.0"/>
<circle cx="624.5" cy="917" r="1.55" fill="#fff" stroke="#1c1c90" stroke-width="1.0"/>
<circle cx="624.5" cy="923.6" r="1.55" fill="#fff" stroke="#1c1c90" stroke-width="1.0"/>
<circle cx="621.9" cy="939.2" r="1.55" fill="#fff" stroke="#1c1c90" stroke-width="1.0"/>
<circle cx="624.5" cy="941.2" r="1.55" fill="#fff" stroke="#1c1c90" stroke-width="1.0"/>
<circle cx="627.1" cy="939.6" r="1.55" fill="#fff" stroke="#1c1c90" stroke-width="1.0"/>
<rect x="622.9" y="925.1" width="3.2" height="3.2" fill="#cc3a3a" stroke="#d87070" stroke-width="0.5"/>
<text x="623.5" y="895" font-family='"Liberation Sans", sans-serif' font-size="10" fill="#222" text-anchor="middle" textLength="8.5" lengthAdjust="spacingAndGlyphs">**</text>
</svg>
</body></html>
